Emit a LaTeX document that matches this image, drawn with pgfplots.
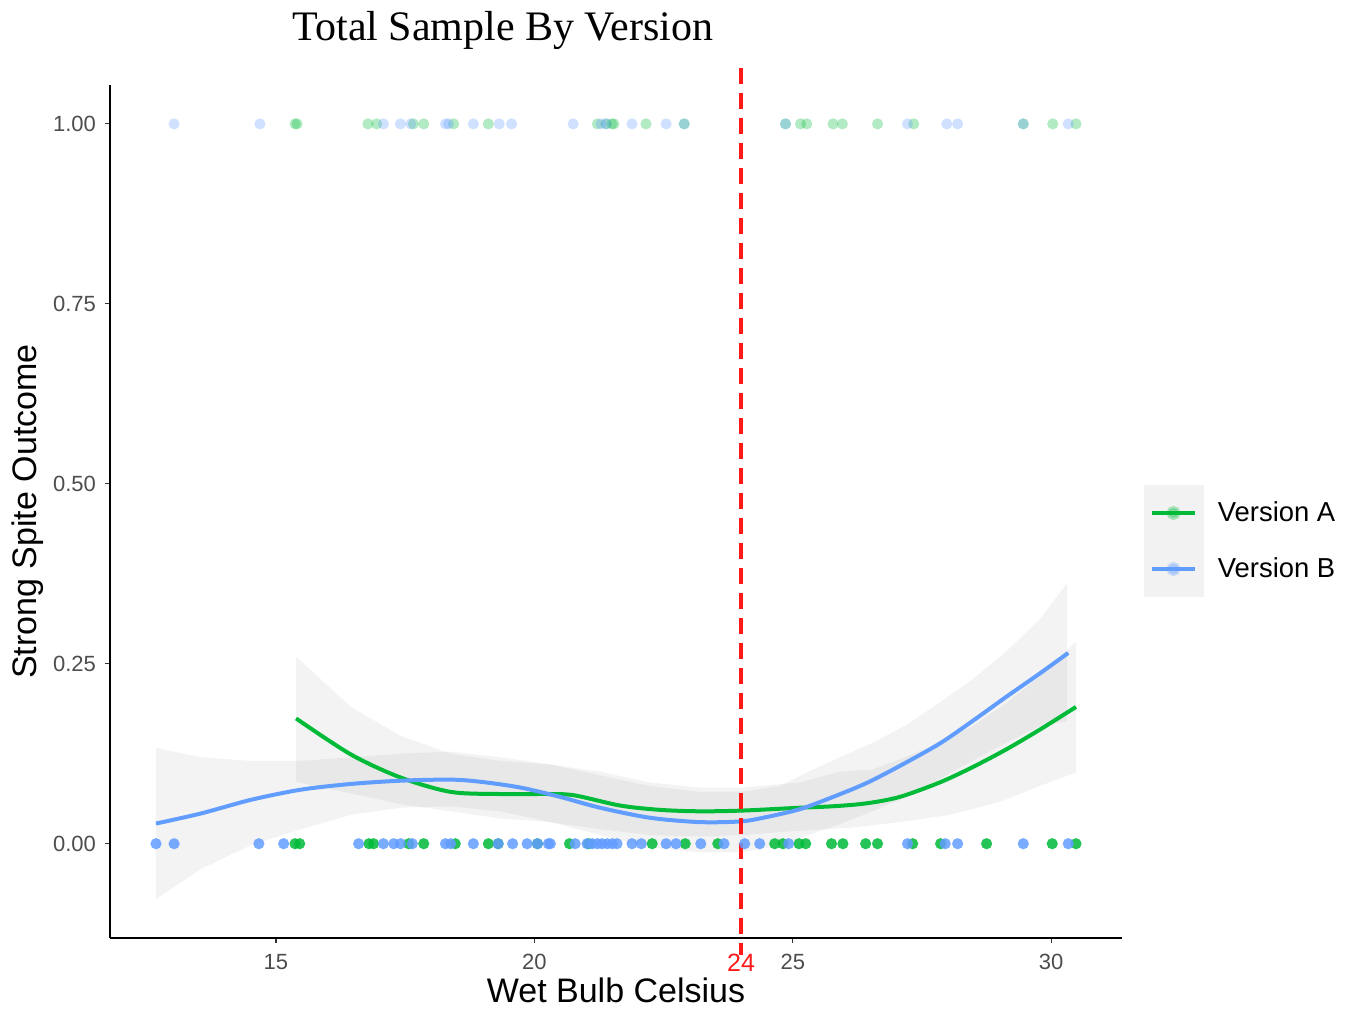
\documentclass[border=0pt]{standalone}
\usepackage{pgfplots}
\pgfplotsset{compat=1.18}
\usepackage{fontspec}
\setmainfont{Liberation Sans}
\newfontfamily\titlefont{Liberation Serif}
\definecolor{cA}{HTML}{00BA38}
\definecolor{cB}{HTML}{619CFF}
\definecolor{ticklab}{HTML}{4D4D4D}
\begin{document}
\begin{tikzpicture}
\path[use as bounding box] (-55pt,-36.5pt) rectangle (625pt,469pt);
\begin{axis}[
  at={(0pt,0pt)}, anchor=south west,
  scale only axis, width=506pt, height=426.5pt,
  xmin=11.79, xmax=31.37, ymin=-0.131, ymax=1.054,
  axis lines=left, axis line style={-, line width=0.9pt, black},
  clip=false,
  xtick={15,20,25,30}, xticklabels={15,20,25,30},
  ytick={0,0.25,0.5,0.75,1}, yticklabels={0.00,0.25,0.50,0.75,1.00},
  tick align=outside, major tick length=2.5pt,
  tick style={black!80, line width=0.6pt},
  /pgf/number format/assume math mode=true,
  ticklabel style={font=\fontsize{11}{13}\selectfont, text=ticklab},
  xticklabel style={yshift=-2pt},
  yticklabel style={xshift=-1pt},
  xlabel={Wet Bulb Celsius}, ylabel={Strong Spite Outcome},
  xlabel style={font=\fontsize{17}{20}\selectfont, at={(axis description cs:0.5,-0.061)}, anchor=center},
  ylabel style={font=\fontsize{17}{20}\selectfont, at={(axis description cs:-0.081,0.5)}, anchor=center},
  legend style={draw=none, fill=none, inner sep=0pt, outer sep=0pt,
    at={(axis description cs:1.0217,0.4654)}, anchor=west,
    row sep=0pt, column sep=0pt,
    font=\fontsize{13.7}{16}\selectfont,
    nodes={inner sep=0pt, outer sep=0pt}},
  legend cell align=left,
]
% confidence bands
\addplot[fill=black, fill opacity=0.047, draw=none, forget plot] coordinates {
(15.39,0.26) (16.45,0.19) (17.41,0.15) (18.38,0.125) (19.34,0.115) (20.31,0.11) (21.27,0.10) (22.24,0.085) (23.20,0.078) (24.02,0.078) (25.13,0.085) (25.91,0.100) (26.54,0.103) (27.2,0.121) (27.84,0.14) (28.47,0.163) (29.13,0.195) (29.77,0.232) (30.48,0.281)
(30.48,0.099) (29.77,0.08) (29.00,0.058) (28.03,0.04) (27.07,0.03) (26.10,0.022) (25.13,0.018) (24.02,0.012) (23.20,0.01) (22.24,0.012) (21.27,0.02) (20.31,0.03) (19.34,0.035) (18.38,0.045) (17.41,0.055) (16.45,0.07) (15.39,0.086)};
\addplot[fill=black, fill opacity=0.047, draw=none, forget plot] coordinates {
(12.68,0.133) (13.55,0.12) (14.52,0.115) (15.48,0.115) (16.45,0.12) (17.41,0.125) (18.38,0.128) (19.34,0.12) (20.31,0.11) (21.27,0.095) (22.24,0.08) (23.20,0.072) (23.98,0.072) (24.75,0.08) (25.3,0.10) (25.91,0.12) (26.54,0.14) (27.2,0.165) (27.84,0.196) (28.47,0.228) (29.13,0.267) (29.77,0.311) (30.31,0.362)
(30.31,0.170) (29.77,0.163) (29.13,0.14) (28.47,0.115) (27.84,0.09) (27.2,0.065) (26.54,0.045) (25.91,0.027) (25.3,0.012) (24.75,-0.003) (23.98,-0.012) (23.20,-0.012) (22.24,-0.005) (21.27,0.012) (20.31,0.03) (19.34,0.045) (18.38,0.052) (17.41,0.05) (16.45,0.04) (15.48,0.02) (14.52,-0.002) (13.55,-0.035) (12.68,-0.077)};
% points: y = 1
\addplot[only marks, mark=*, mark size=2.8pt, mark options={draw opacity=0, fill=cA, fill opacity=0.3}, forget plot] coordinates {
(15.37,1) (15.41,1) (16.78,1) (16.95,1) (17.66,1) (17.86,1) (18.44,1) (19.11,1) (21.22,1) (21.39,1) (21.50,1) (21.54,1) (22.16,1) (22.90,1) (24.86,1) (25.15,1) (25.27,1) (25.78,1) (25.96,1) (26.64,1) (27.34,1) (29.46,1) (30.03,1) (30.48,1)};
\addplot[only marks, mark=*, mark size=2.8pt, mark options={draw opacity=0, fill=cB, fill opacity=0.3}, forget plot] coordinates {
(13.03,1) (14.69,1) (17.08,1) (17.41,1) (17.61,1) (18.28,1) (18.34,1) (18.82,1) (19.32,1) (19.56,1) (20.75,1) (21.29,1) (21.39,1) (21.89,1) (22.55,1) (22.90,1) (24.86,1) (27.22,1) (27.98,1) (28.19,1) (29.46,1) (30.33,1)};
% points: y = 0
\addplot[only marks, mark=*, mark size=2.8pt, mark options={draw opacity=0, fill=cA, fill opacity=0.85}, forget plot] coordinates {
(15.37,0) (15.46,0) (16.80,0) (16.89,0) (17.57,0) (17.86,0) (18.47,0) (19.11,0) (19.30,0) (20.06,0) (20.68,0) (21.05,0) (22.28,0) (22.92,0) (23.55,0) (24.65,0) (24.81,0) (25.12,0) (25.25,0) (25.75,0) (25.97,0) (26.41,0) (26.64,0) (27.32,0) (27.86,0) (28.75,0) (30.02,0) (30.48,0)};
\addplot[only marks, mark=*, mark size=2.8pt, mark options={draw opacity=0, fill=cB, fill opacity=0.85}, forget plot] coordinates {
(12.68,0) (13.03,0) (14.67,0) (15.15,0) (16.60,0) (17.08,0) (17.28,0) (17.41,0) (17.64,0) (18.28,0) (18.38,0) (18.82,0) (19.30,0) (19.58,0) (19.86,0) (20.06,0) (20.27,0) (20.31,0) (20.79,0) (21.02,0) (21.12,0) (21.22,0) (21.31,0) (21.41,0) (21.51,0) (21.60,0) (21.89,0) (22.07,0) (22.55,0) (22.74,0) (23.22,0) (23.67,0) (24.07,0) (24.36,0) (24.92,0) (27.22,0) (27.95,0) (28.19,0) (29.46,0) (30.33,0)};
% smooth lines
\addplot[cA, line width=2pt, smooth, tension=0.5,
  legend image code/.code={
    \fill[black!5] (-3pt,-13pt) rectangle (25pt,13pt);
    \draw[cA, line width=2pt] (0pt,0pt) -- (21.5pt,0pt);
    \fill[cA, opacity=0.3] (10.75pt,0pt) circle (2.5pt);
    \path (32pt,0pt);}] coordinates {
(15.39,0.174) (16.45,0.124) (17.41,0.092) (18.38,0.072) (19.34,0.069) (20.31,0.069) (20.79,0.067) (21.66,0.053) (22.43,0.047) (23.20,0.045) (24.02,0.046) (25.14,0.05) (25.78,0.052) (26.42,0.056) (27.07,0.065) (27.84,0.085) (28.47,0.106) (29.13,0.131) (29.77,0.158) (30.48,0.19)};
\addlegendentry{Version A}
\addplot[cB, line width=2pt, smooth, tension=0.5,
  legend image code/.code={
    \fill[black!5] (-3pt,-13pt) rectangle (25pt,13pt);
    \draw[cB, line width=2pt] (0pt,0pt) -- (21.5pt,0pt);
    \fill[cB, opacity=0.3] (10.75pt,0pt) circle (2.5pt);
    \path (32pt,0pt);}] coordinates {
(12.68,0.028) (13.55,0.042) (14.52,0.061) (15.48,0.075) (16.45,0.083) (17.41,0.0875) (18.38,0.089) (18.96,0.086) (19.73,0.078) (20.50,0.065) (21.27,0.05) (22.24,0.036) (23.20,0.030) (24.0,0.031) (24.49,0.037) (25.14,0.048) (25.78,0.065) (26.42,0.084) (27.07,0.108) (27.84,0.139) (28.47,0.170) (29.13,0.204) (29.77,0.236) (30.33,0.265)};
\addlegendentry{Version B}
% threshold line
\addplot[red!90!white, line width=1.6pt, dash pattern=on 8pt off 4.5pt, forget plot] coordinates {(24,1.078) (24,-0.154)};
\node[text=red!90!white, font=\fontsize{12.5}{14}\selectfont] at (axis cs:24,-0.131) [yshift=-12.5pt] {24};
\end{axis}
\node[font=\titlefont\fontsize{21}{24}\selectfont] at (196.5pt,454pt) {Total Sample By Version};
\end{tikzpicture}
\end{document}
